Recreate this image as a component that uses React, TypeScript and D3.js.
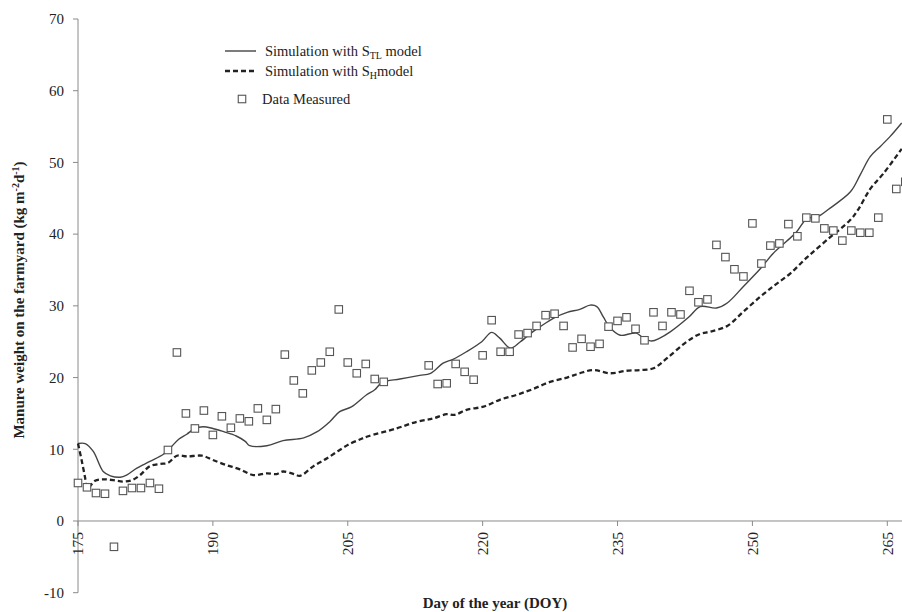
import * as d3 from "d3";
import React from "react";

// measured points (day of year, kg m-2 d-1)
const measuredDays = [
  175, 176, 177, 178, 179, 180, 181, 182, 183, 184, 185, 186, 187, 188, 189, 190, 191, 192, 193, 194, 195, 196,
  197, 198, 199, 200, 201, 202, 203, 204, 205, 206, 207, 208, 209, 214, 215, 216, 217, 218, 219, 220, 221, 222,
  223, 224, 225, 226, 227, 228, 229, 230, 231, 232, 233, 234, 235, 236, 237, 238, 239, 240, 241, 242, 243, 244,
  245, 246, 247, 248, 249, 250, 251, 252, 253, 254, 255, 256, 257, 258, 259, 260, 261, 262, 263, 264, 265, 266, 267,
];
const measuredValues = [
  5.3, 4.7, 3.9, 3.8, -3.6, 4.2, 4.6, 4.6, 5.3, 4.5, 9.9, 23.5, 15.0, 12.9, 15.4, 12.0, 14.6, 13.0, 14.3, 13.9, 15.7,
  14.1, 15.6, 23.2, 19.6, 17.8, 21.0, 22.1, 23.6, 29.5, 22.1, 20.6, 21.9, 19.8, 19.4, 21.7, 19.1, 19.2, 21.9, 20.8,
  19.7, 23.1, 28.0, 23.6, 23.6, 26.0, 26.2, 27.2, 28.7, 28.9, 27.2, 24.2, 25.4, 24.3, 24.7, 27.1, 27.9, 28.4, 26.8,
  25.2, 29.1, 27.2, 29.1, 28.8, 32.1, 30.5, 30.9, 38.5, 36.8, 35.1, 34.1, 41.5, 35.9, 38.4, 38.7, 41.4, 39.7, 42.3,
  42.2, 40.8, 40.5, 39.1, 40.5, 40.2, 40.2, 42.3, 56.0, 46.3, 47.3,
];

// S_TL model simulation
const stlModel: [number, number][] = [
  [175, 10.8], [175.8, 10.8], [176.7, 9.7], [177.8, 6.9], [178.6, 6.3], [179.7, 6.1], [180.4, 6.4], [181.5, 7.35],
  [183, 8.3], [184.5, 9.3], [185.2, 10.1], [186.2, 11.4], [187.1, 12.1], [188, 12.9], [188.9, 13.15], [190, 12.9],
  [191.2, 12.45], [192.6, 11.85], [193.6, 11.1], [194.1, 10.5], [196, 10.5], [197.8, 11.2], [200.1, 11.6],
  [201.6, 12.45], [203, 13.85], [204.1, 15.25], [205.4, 15.9], [207.1, 17.6], [208, 18.3], [208.8, 19.3],
  [210.8, 19.8], [213, 20.3], [214.2, 20.6], [215.6, 22.0], [216.7, 22.55], [218.2, 23.6], [219.9, 25.0],
  [221, 26.3], [221.9, 25.5], [223.1, 24.1], [224.2, 25.0], [225.6, 26.4], [226.4, 27.1], [227.9, 28.3],
  [229.4, 29.1], [230.8, 29.5], [231.95, 30.1], [232.7, 29.9], [233.4, 28.5], [234.2, 26.9], [235.3, 25.9],
  [236.4, 26.1], [237.1, 26.2], [237.9, 25.5], [238.8, 25.1], [239.7, 25.5], [240.9, 26.4], [242.9, 28.4],
  [244.2, 29.9], [246.0, 29.7], [247.2, 30.4], [249.0, 32.7], [250.9, 35.2], [252.3, 37.3], [253.8, 39.0],
  [254.9, 40.3], [256.1, 42.2], [257.2, 42.4], [258.6, 43.6], [260.9, 45.9], [262, 48.3], [263.1, 50.8],
  [264.2, 52.2], [265.3, 53.6], [266.6, 55.5],
];

// S_H model simulation
const shModel: [number, number][] = [
  [175, 10.8], [175.4, 8.5], [175.8, 5.95], [176, 4.55], [176.3, 4.8], [176.9, 5.6], [177.8, 5.8], [178.9, 5.7],
  [180, 5.5], [181, 5.7], [181.9, 6.4], [183, 7.65], [184.1, 7.95], [185, 8.1], [186, 9.1], [187.1, 9.0],
  [188.8, 9.1], [190, 8.5], [191.5, 7.8], [193, 7.2], [194.5, 6.4], [196, 6.65], [197.1, 6.55], [197.8, 6.9],
  [199, 6.55], [199.7, 6.3], [201.2, 7.65], [202.7, 8.75], [204.1, 9.9], [205.3, 10.8], [206.4, 11.4],
  [207.1, 11.75], [210.4, 12.9], [212.7, 13.85], [214.5, 14.3], [216, 14.9], [216.9, 14.8], [218.2, 15.5],
  [220.1, 15.95], [221.9, 16.9], [223.8, 17.6], [225.6, 18.4], [227.5, 19.4], [229.4, 20.0], [230.8, 20.6],
  [232.3, 21.05], [234.2, 20.6], [236, 20.95], [237.5, 21.05], [239, 21.3], [240.5, 22.7], [242.7, 25.0],
  [244.2, 26.1], [245.3, 26.4], [247.2, 27.2], [249, 29.2], [250.9, 31.3], [252.5, 32.9], [254.2, 34.5],
  [256.1, 36.8], [258.3, 39.2], [260.9, 42.0], [261.8, 43.5], [263.1, 46.3], [264.6, 48.5], [266.6, 51.9],
];

const xTicks = [175, 190, 205, 220, 235, 250, 265];
const yTicks = [-10, 0, 10, 20, 30, 40, 50, 60, 70];

const WIDTH = 902;
const HEIGHT = 612;
const FONT = "'Liberation Serif', 'Times New Roman', serif";

const App = () => {
  const x = d3.scaleLinear().domain([175, 265]).range([78, 887.3]);
  const y = d3.scaleLinear().domain([-10, 70]).range([592.7, 19]);

  const line = d3
    .line<[number, number]>()
    .x((d) => x(d[0]))
    .y((d) => y(d[1]))
    .curve(d3.curveCatmullRom.alpha(0.5));

  const axisColor = "#8a8a8a";
  const sq = 7.5;

  return (
    <svg
      width={WIDTH}
      height={HEIGHT}
      viewBox={`0 0 ${WIDTH} ${HEIGHT}`}
      style={{ position: "absolute", left: 0, top: 0, background: "#fff" }}
      fontFamily={FONT}
    >
      <rect width={WIDTH} height={HEIGHT} fill="#fff" />

      {/* y axis */}
      <line x1={x(175)} x2={x(175)} y1={y(70)} y2={y(-10)} stroke={axisColor} strokeWidth={1} />
      {yTicks.map((t) => (
        <g key={t}>
          <line x1={x(175) - 5} x2={x(175)} y1={y(t)} y2={y(t)} stroke={axisColor} />
          <text x={64} y={y(t)} dy="0.35em" textAnchor="end" fontSize={15} fill="#222">
            {t}
          </text>
        </g>
      ))}

      {/* x axis at zero */}
      <line x1={x(175)} x2={WIDTH} y1={y(0)} y2={y(0)} stroke={axisColor} strokeWidth={1} />
      {xTicks.map((t) => (
        <g key={t}>
          <line x1={x(t)} x2={x(t)} y1={y(0)} y2={y(0) + 5} stroke={axisColor} />
          <text
            transform={`translate(${x(t)},${y(0) + 11}) rotate(-90)`}
            dy="0.35em"
            textAnchor="end"
            fontSize={15.5}
            fill="#222"
          >
            {t}
          </text>
        </g>
      ))}

      {/* model lines */}
      <path d={line(stlModel) ?? ""} fill="none" stroke="#444" strokeWidth={1.4} />
      <path d={line(shModel) ?? ""} fill="none" stroke="#222" strokeWidth={2.3} strokeDasharray="5,3" />

      {/* measured data */}
      {measuredDays.map((d, i) => (
        <rect
          key={d}
          x={x(d) - sq / 2}
          y={y(measuredValues[i]) - sq / 2}
          width={sq}
          height={sq}
          fill="#fff"
          stroke="#555"
          strokeWidth={1.1}
        />
      ))}

      {/* legend */}
      <g fontSize={14.5} fill="#222">
        <line x1={225} x2={256} y1={51} y2={51} stroke="#444" strokeWidth={1.4} />
        <text x={265} y={51} dy="0.35em">
          Simulation with S<tspan fontSize={10} dy={3}>TL</tspan>
          <tspan dy={-3}> model</tspan>
        </text>
        <line x1={225} x2={256} y1={71} y2={71} stroke="#222" strokeWidth={2.3} strokeDasharray="5,3" />
        <text x={265} y={71} dy="0.35em">
          Simulation with S<tspan fontSize={10} dy={3}>H</tspan>
          <tspan dy={-3}>model</tspan>
        </text>
        <rect x={242 - sq / 2} y={99 - sq / 2} width={sq} height={sq} fill="#fff" stroke="#555" strokeWidth={1.1} />
        <text x={262} y={99} dy="0.35em">
          Data Measured
        </text>
      </g>

      {/* axis titles */}
      <text x={495} y={603} dy="0.35em" textAnchor="middle" fontSize={15} fontWeight="bold" fill="#222">
        Day of the year (DOY)
      </text>
      <text
        transform={`translate(19,300) rotate(-90)`}
        dy="0.35em"
        textAnchor="middle"
        fontSize={15}
        fontWeight="bold"
        fill="#222"
      >
        Manure weight on the farmyard (kg m<tspan fontSize={10} dy={-5}>-2</tspan>
        <tspan dy={5}>d</tspan>
        <tspan fontSize={10} dy={-5}>-1</tspan>
        <tspan dy={5}>)</tspan>
      </text>
    </svg>
  );
};

export default App;
